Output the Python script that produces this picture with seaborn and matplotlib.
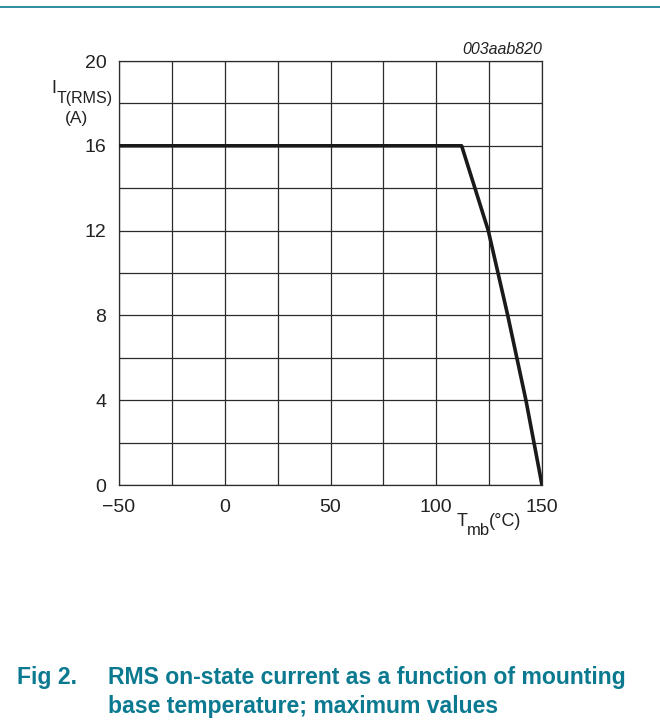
import numpy as np
import pandas as pd
import seaborn as sns
import matplotlib.pyplot as plt
from matplotlib.lines import Line2D

# data
t_mb = [-50, 112, 124.6, 133.8, 142.4, 150]
i_rms = [16, 16, 12, 8, 4, 0]

x_ticks = [-50, 0, 50, 100, 150]
y_ticks = [0, 4, 8, 12, 16, 20]
x_grid = np.arange(-50, 151, 25)
y_grid = np.arange(0, 21, 2)

TEAL = "#0b7a91"

sns.set_style("white")
plt.rcParams["font.family"] = ["Liberation Sans", "DejaVu Sans"]

fig = plt.figure(figsize=(6.6, 7.27), dpi=100)
ax = fig.add_axes([119 / 660, 1 - 485 / 727, 423 / 660, 424 / 727])

df = pd.DataFrame({"t": t_mb, "i": i_rms})
sns.lineplot(data=df, x="t", y="i", ax=ax, color="#1a1a1a", lw=2.6,
             sort=False, zorder=3)

for gx in x_grid:
    ax.axvline(gx, color="#2b2b2b", lw=0.9, zorder=1)
for gy in y_grid:
    ax.axhline(gy, color="#2b2b2b", lw=0.9, zorder=1)

ax.set_xlim(-50, 150)
ax.set_ylim(0, 20)
ax.set_xticks(x_ticks)
ax.set_xticklabels(["\u221250", "0", "50", "100", "150"])
ax.set_yticks(y_ticks)
ax.tick_params(length=0, labelsize=14, colors="#222222")
ax.tick_params(axis="x", pad=10)
ax.tick_params(axis="y", pad=9)
for s in ax.spines.values():
    s.set_color("#2b2b2b")
    s.set_linewidth(0.9)
ax.set_xlabel(None)
ax.set_ylabel(None)

# axis labels as free text
fig.text(51 / 660, 1 - 93 / 727, "I", fontsize=13, color="#222222")
fig.text(57 / 660, 1 - 103 / 727, "T(RMS)", fontsize=11.5, color="#222222")
fig.text(76 / 660, 1 - 119 / 727, "(A)", fontsize=12.5, color="#222222",
         ha="center", va="center")
fig.text(457 / 660, 1 - 526 / 727, "T", fontsize=13, color="#222222")
fig.text(467 / 660, 1 - 535 / 727, "mb", fontsize=12, color="#222222")
fig.text(489 / 660, 1 - 526 / 727, "(\u00b0C)", fontsize=13, color="#222222")
fig.text(542 / 660, 1 - 54 / 727, "003aab820", fontsize=11.5,
         style="italic", ha="right", color="#222222")

# top rule and caption
fig.add_artist(Line2D([0, 1], [1 - 7 / 727, 1 - 7 / 727], color=TEAL, lw=1.2))
fig.text(17 / 660, 1 - 684 / 727, "Fig 2.", fontsize=16.6, fontweight="bold",
         color=TEAL, va="baseline")
fig.text(108 / 660, 1 - 684 / 727,
         "RMS on-state current as a function of mounting",
         fontsize=16.6, fontweight="bold", color=TEAL, va="baseline")
fig.text(108 / 660, 1 - 713 / 727, "base temperature; maximum values",
         fontsize=16.6, fontweight="bold", color=TEAL, va="baseline")

fig.savefig("out.png", dpi=100)
